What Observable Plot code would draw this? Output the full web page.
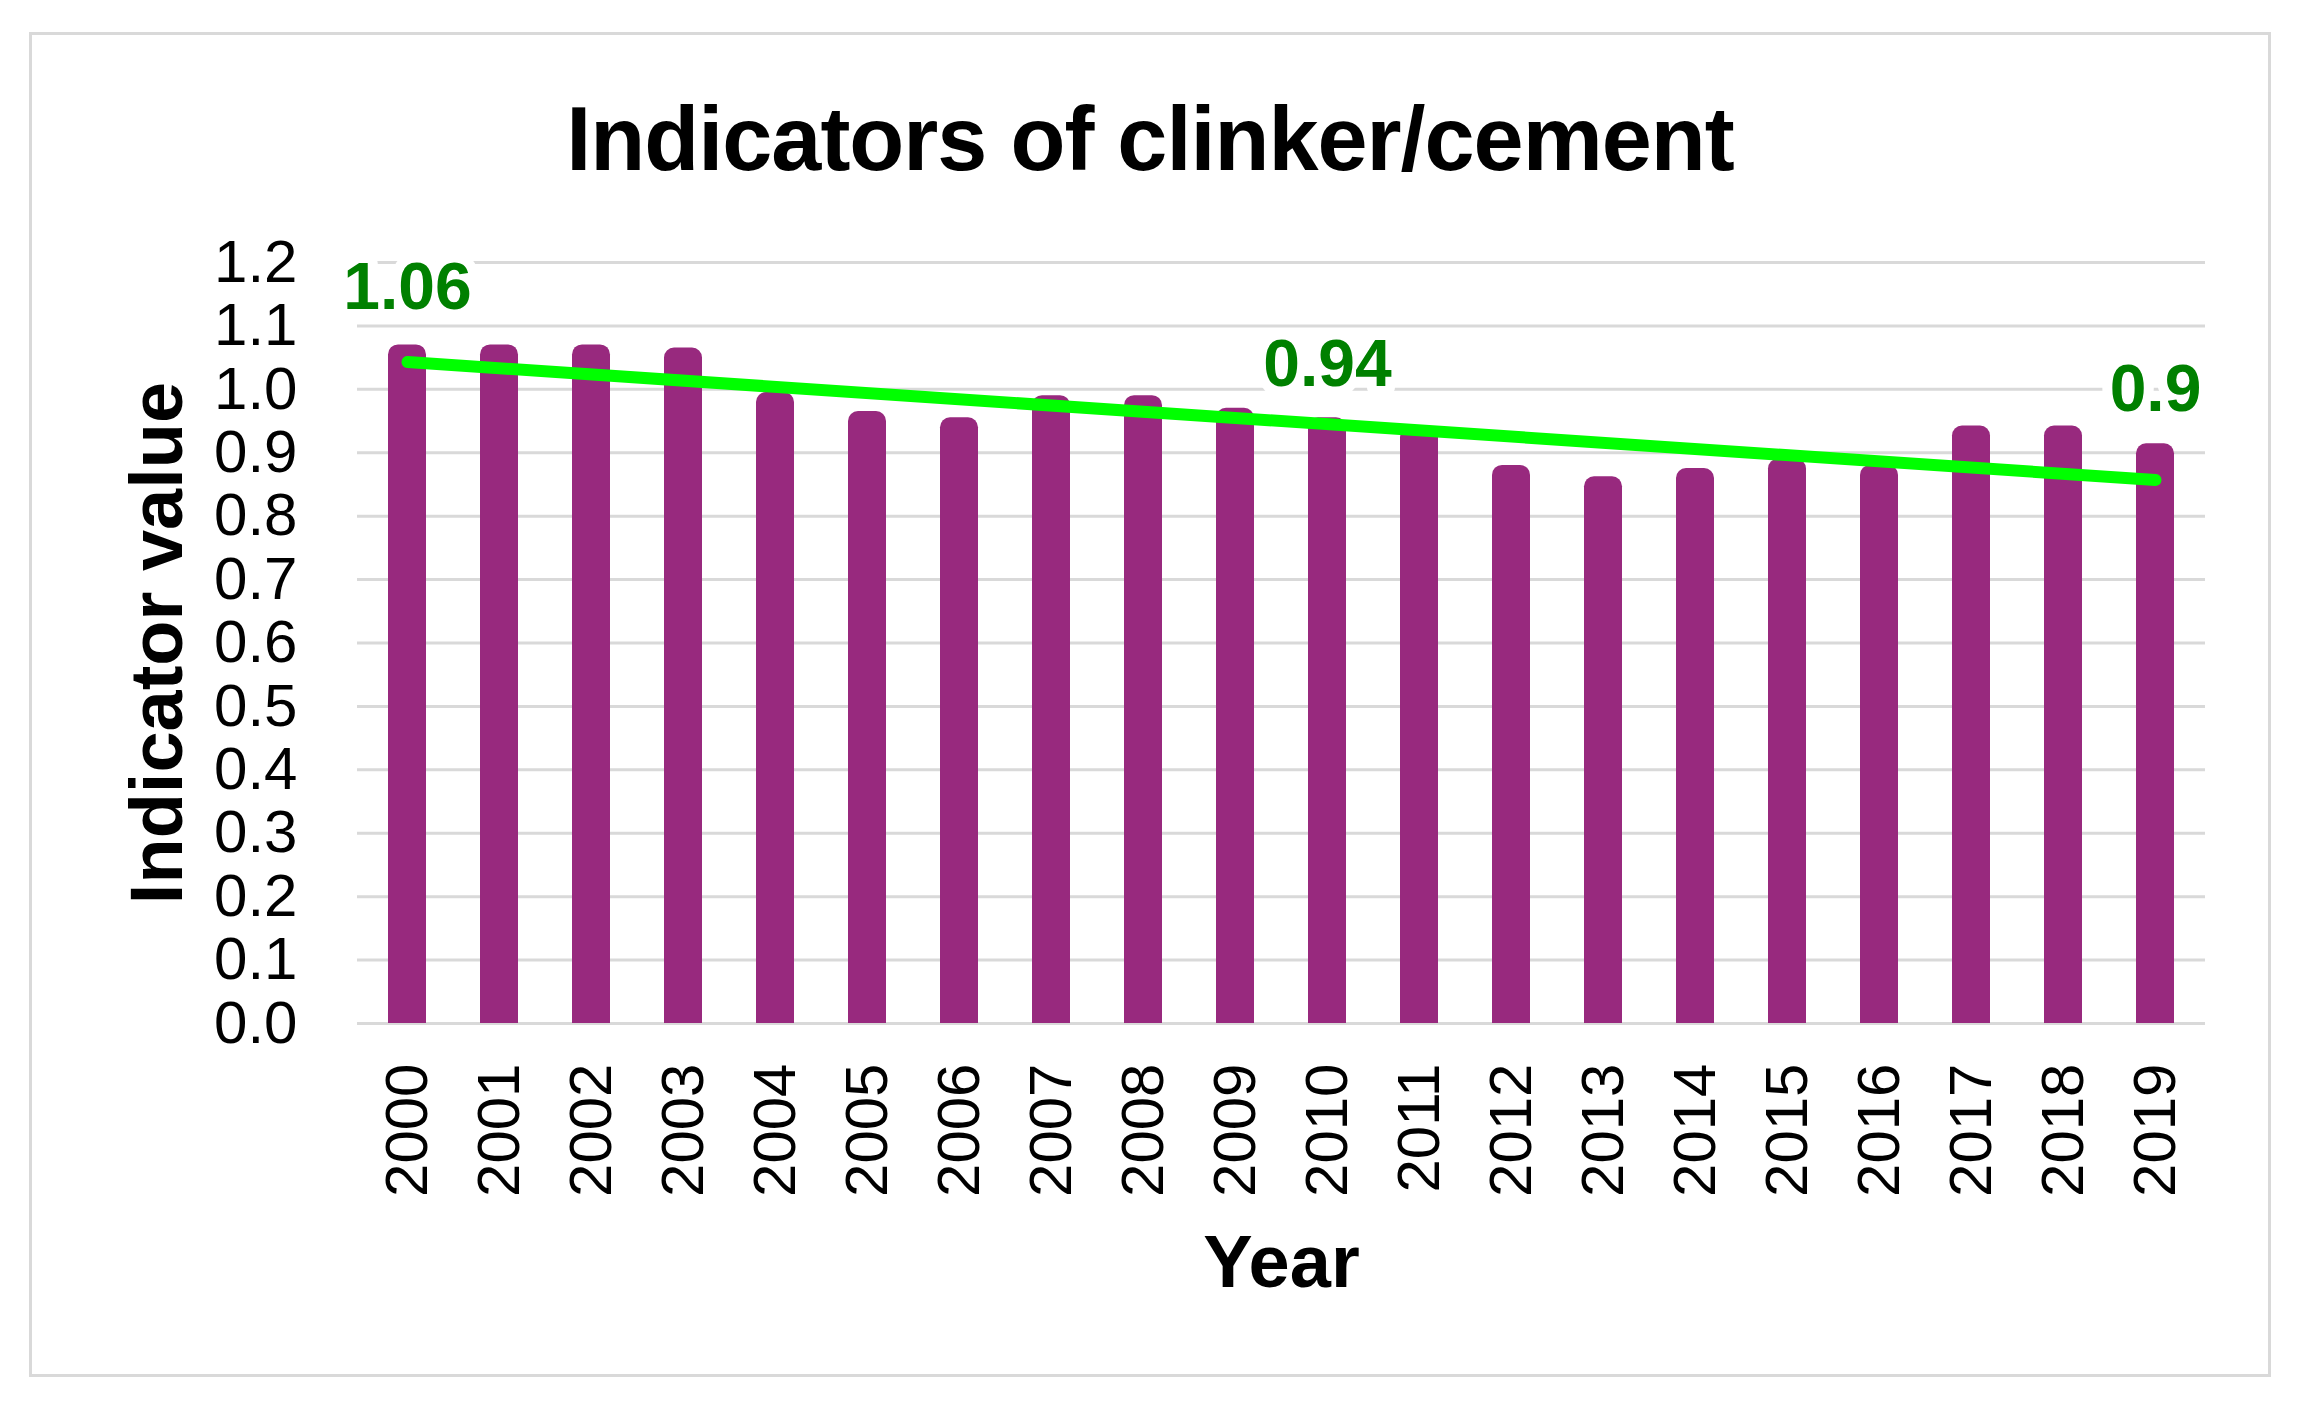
<!DOCTYPE html>
<html>
<head>
<meta charset="utf-8">
<script src="https://cdn.jsdelivr.net/npm/d3@7"></script>
<script src="https://cdn.jsdelivr.net/npm/@observablehq/plot@0.6"></script>
<style>
  html, body { margin: 0; padding: 0; background: white; overflow: hidden; }
  #wrap { position: relative; width: 2309px; height: 1406px; font-family: "Liberation Sans", Arial, sans-serif; }
  #frame { position: absolute; left: 29px; top: 32px; width: 2242px; height: 1345px; border: 3px solid #d9d9d9; box-sizing: border-box; pointer-events: none; }
  #title { position: absolute; left: 0; top: 94px; width: 2300px; text-align: center; font-size: 90px; font-weight: bold; line-height: 1; letter-spacing: -1px; color: #000; }
  #chart { position: absolute; left: 0; top: 0; }
</style>
</head>
<body>
<div id="wrap">
  <div id="chart"></div>
  <div id="title">Indicators of clinker/cement</div>
  <div id="frame"></div>
</div>
<script>
const years = ["2000","2001","2002","2003","2004","2005","2006","2007","2008","2009",
               "2010","2011","2012","2013","2014","2015","2016","2017","2018","2019"];
const values = [1.07, 1.07, 1.07, 1.065, 0.995, 0.965, 0.955, 0.99, 0.99, 0.97,
                0.955, 0.94, 0.88, 0.862, 0.875, 0.89, 0.88, 0.942, 0.942, 0.914];
const trendYears = ["2000", "2019"];
const trendValues = [1.043, 0.857];
const labelYears = ["2000", "2010", "2019"];
const labelValues = [1.06, 0.94, 0.9];
const labelTexts = ["1.06", "0.94", "0.9"];
const yTicks = [0, 0.1, 0.2, 0.3, 0.4, 0.5, 0.6, 0.7, 0.8, 0.9, 1.0, 1.1, 1.2];

const bars = years.map((y, i) => ({year: y, value: values[i]}));
const trend = trendYears.map((y, i) => ({year: y, value: trendValues[i]}));
const labels = labelYears.map((y, i) => ({year: y, value: labelValues[i], text: labelTexts[i]}));

const chart = Plot.plot({
  width: 2309,
  height: 1406,
  marginLeft: 357,
  marginRight: 104,
  marginTop: 262,
  marginBottom: 383,
  style: {fontFamily: "'Liberation Sans', Arial, sans-serif", background: "transparent", color: "#000"},
  x: {type: "band", domain: years, paddingInner: 0.59, paddingOuter: 0.295},
  y: {domain: [0, 1.2]},
  marks: [
    Plot.ruleY(yTicks, {stroke: "#d9d9d9", strokeWidth: 3}),
    Plot.barY(bars, {x: "year", y: "value", fill: "#98297e", ry1: 10}),
    Plot.line(trend, {x: "year", y: "value", stroke: "#00ff00", strokeWidth: 12, strokeLinecap: "round"}),
    Plot.text(labels, {x: "year", y: "value", text: "text", dy: -63, fill: "#008000",
      fontSize: 66, fontWeight: "bold", stroke: "white", strokeWidth: 20, strokeLinejoin: "round"}),
    Plot.axisY({ticks: yTicks, tickFormat: d => d.toFixed(1), tickSize: 0, tickPadding: 60, fontSize: 60, label: null}),
    Plot.axisX({tickRotate: -90, tickSize: 0, tickPadding: 40, fontSize: 60, label: null}),
    Plot.text(["Indicator value"], {frameAnchor: "left", dx: -199, rotate: -90, textAnchor: "middle",
      lineAnchor: "middle", fontSize: 74, fontWeight: "bold"}),
    Plot.text(["Year"], {frameAnchor: "bottom", dy: 240, textAnchor: "middle", lineAnchor: "middle",
      fontSize: 74, fontWeight: "bold"})
  ]
});
document.getElementById("chart").appendChild(chart);
</script>
</body>
</html>
